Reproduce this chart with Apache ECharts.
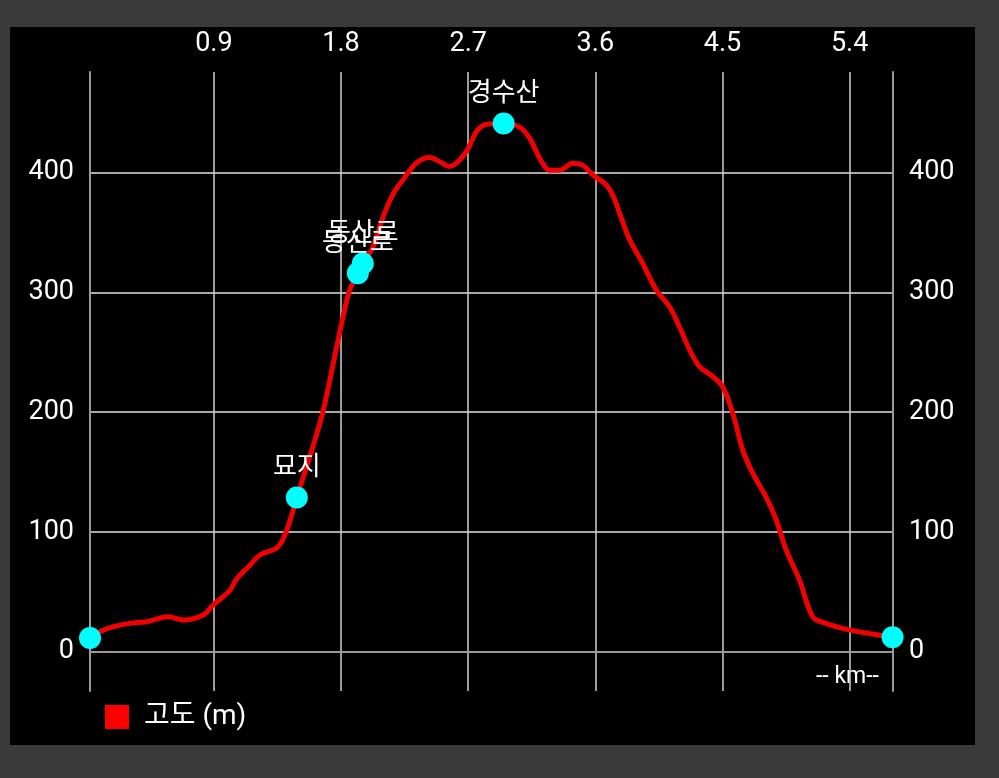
<!DOCTYPE html>
<html>
<head>
<meta charset="utf-8">
<script src="https://cdn.jsdelivr.net/npm/echarts@6/dist/echarts.min.js"></script>
<style>
html,body{margin:0;padding:0;background:#3a3a3a;}
#chart{width:999px;height:778px;}
</style>
</head>
<body>
<div id="chart"></div>
<script>
// Distance along the route (km) and elevation (m)
const distKm = [0.023, 0.094, 0.188, 0.306, 0.424, 0.577, 0.683, 0.825, 0.895, 1.013, 1.063, 1.155, 1.226, 1.353, 1.416, 1.487, 1.600, 1.671, 1.744, 1.815, 1.862, 1.919, 1.954, 2.027, 2.098, 2.168, 2.239, 2.334, 2.428, 2.499, 2.569, 2.640, 2.699, 2.758, 2.829, 2.951, 3.064, 3.135, 3.206, 3.277, 3.347, 3.441, 3.512, 3.583, 3.677, 3.724, 3.772, 3.843, 3.936, 4.031, 4.125, 4.196, 4.267, 4.337, 4.431, 4.502, 4.573, 4.644, 4.714, 4.809, 4.880, 4.950, 5.044, 5.139, 5.233, 5.398, 5.562, 5.704];
const elevM = [11.3, 16.5, 20.7, 23.5, 24.9, 29, 26.3, 30.5, 38.8, 51, 61, 72, 80.6, 87.3, 101.5, 128.6, 170.8, 200, 240, 280, 302, 316, 324, 338, 363, 382, 394, 408, 412.5, 409, 405, 410.6, 420, 434, 440.4, 441, 438, 428.7, 412, 402, 402, 407.8, 406, 398, 389.7, 381, 366, 344, 324, 302, 288, 271, 252, 238, 229.6, 221, 199, 168, 149, 129, 110, 85, 60, 29, 23.5, 18, 14.6, 11.9];

// Waypoints
const wpKm = [0.023, 1.487, 1.919, 1.954, 2.951, 5.704];
const wpM = [11.3, 128.6, 316, 324, 441, 11.9];
const wpNames = ['', '묘지', '등산로', '동산로', '경수산', ''];

// Tick labels
const xTicks = [0.9, 1.8, 2.7, 3.6, 4.5, 5.4];
const yTicks = [0, 100, 200, 300, 400];

const seriesName = '고도 (m)';
const unitLabel = '-- km--';

const FONT = 'Roboto, "Noto Sans CJK KR", sans-serif';

const lineData = distKm.map((d, i) => [d, elevM[i]]);
const wpData = wpKm.map((d, i) => ({ value: [d, wpM[i]], name: wpNames[i] }));

const chart = echarts.init(document.getElementById('chart'));
const yAxisCommon = {
  type: 'value',
  min: -33,
  max: 484,
  axisLine: { show: true, lineStyle: { color: '#9a9a9a', width: 2 } },
  axisTick: { show: false, customValues: yTicks },
  axisLabel: { customValues: yTicks, color: '#ffffff', fontSize: 27, fontFamily: FONT, margin: 16 },
};
chart.setOption({
  backgroundColor: '#3a3a3a',
  animation: false,
  graphic: [
    { type: 'rect', left: 10, top: 27, shape: { width: 965, height: 718 }, style: { fill: '#000000' }, z: -10 },
    { type: 'text', left: 816, top: 666, style: { text: unitLabel, fill: '#ffffff', font: '23px ' + FONT } }
  ],
  grid: { left: 90, top: 72, width: 803, height: 619, containLabel: false },
  legend: {
    left: 105, top: 703, padding: 0,
    itemWidth: 24, itemHeight: 24, itemGap: 10,
    data: [{ name: seriesName, icon: 'rect' }],
    textStyle: { color: '#ffffff', fontSize: 28, fontFamily: FONT, padding: [0, 0, 0, 10] }
  },
  xAxis: {
    type: 'value',
    position: 'top',
    min: 0.023,
    max: 5.707,
    axisLine: { show: true, lineStyle: { color: '#9a9a9a', width: 2 } },
    axisTick: { show: false, customValues: xTicks },
    axisLabel: { customValues: xTicks, color: '#ffffff', fontSize: 27, fontFamily: FONT, margin: 14 },
    splitLine: { show: true, lineStyle: { color: '#cfcfcf', width: 1.5 } }
  },
  yAxis: [
    Object.assign({}, yAxisCommon, { position: 'left', splitLine: { show: true, lineStyle: { color: '#e0e0e0', width: 1.5 } } }),
    Object.assign({}, yAxisCommon, { position: 'right', splitLine: { show: false } })
  ],
  series: [
    {
      name: seriesName,
      type: 'line',
      data: lineData,
      smooth: 0.35,
      showSymbol: false,
      symbol: 'none',
      color: '#ff0000',
      lineStyle: { color: '#f00000', width: 5 },
      z: 3
    },
    {
      name: 'waypoints',
      type: 'scatter',
      data: wpData,
      symbolSize: 22,
      itemStyle: { color: '#00ffff', opacity: 1 },
      label: {
        show: true, position: 'top', distance: 5,
        formatter: p => p.name,
        color: '#ffffff', fontSize: 26, fontFamily: FONT
      },
      z: 5
    }
  ]
});
</script>
</body>
</html>
